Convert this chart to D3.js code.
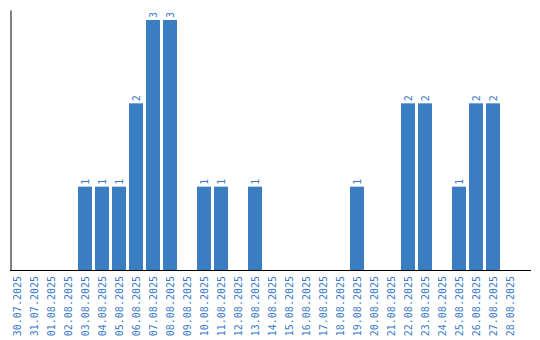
<!DOCTYPE html>
<html>
<head>
<meta charset="utf-8">
<script src="https://cdn.jsdelivr.net/npm/d3@7"></script>
<style>
    body { margin: 0; background: #fff; }
    text { font-family: "DejaVu Sans Mono", monospace; font-size: 10px; fill: #3a7bc8; }
</style>
</head>
<body>
<div class="container"></div>
<script>
var dates = [
    '30.07.2025', '31.07.2025', '01.08.2025', '02.08.2025', '03.08.2025', '04.08.2025',
    '05.08.2025', '06.08.2025', '07.08.2025', '08.08.2025', '09.08.2025', '10.08.2025',
    '11.08.2025', '12.08.2025', '13.08.2025', '14.08.2025', '15.08.2025', '16.08.2025',
    '17.08.2025', '18.08.2025', '19.08.2025', '20.08.2025', '21.08.2025', '22.08.2025',
    '23.08.2025', '24.08.2025', '25.08.2025', '26.08.2025', '27.08.2025', '28.08.2025'
];
var counts = [0, 0, 0, 0, 1, 1, 1, 2, 3, 3, 0, 1, 1, 0, 1, 0, 0, 0, 0, 0, 1, 0, 0, 2, 2, 0, 1, 2, 2, 0];

const WIDTH = 540;
const HEIGHT = 340;
const LEFT = 10;
const BASE = 270;
const TOP = 10;
const BAR_COLOR = '#3b7dc1';

var svg = d3.select('.container').append('svg')
    .attr('width', WIDTH)
    .attr('height', HEIGHT);

var xScale = d3.scaleBand()
    .domain(dates)
    .range([LEFT, LEFT + 17 * dates.length])
    .paddingInner(3 / 17)
    .paddingOuter(1.5 / 17)
    .align(0);

var yScale = d3.scaleLinear()
    .domain([0, 3.12])
    .range([BASE, TOP]);

var data = dates.map(function (d, i) {
    return {date: d, value: counts[i]};
});
var nonZero = data.filter(function (d) { return d.value > 0; });

svg.append('g')
    .selectAll('rect')
    .data(nonZero)
    .enter()
    .append('rect')
    .attr('x', function (d) { return xScale(d.date); })
    .attr('y', function (d) { return yScale(d.value); })
    .attr('width', xScale.bandwidth())
    .attr('height', function (d) { return BASE - yScale(d.value); })
    .attr('fill', BAR_COLOR);

// value labels, rotated like the date labels
svg.append('g')
    .selectAll('text')
    .data(nonZero)
    .enter()
    .append('text')
    .attr('transform', function (d) {
        var cx = xScale(d.date) + xScale.bandwidth() / 2;
        return 'translate(' + cx + ',' + (yScale(d.value) - 2) + ') rotate(-90)';
    })
    .attr('dy', '0.35em')
    .attr('text-anchor', 'start')
    .text(function (d) { return d.value; });

// axes
var xAxis = svg.append('g')
    .attr('transform', 'translate(0,' + BASE + ')')
    .call(d3.axisBottom(xScale).tickSize(0).tickSizeOuter(0));
xAxis.select('.domain').remove();
xAxis.selectAll('text')
    .attr('x', 0)
    .attr('y', 0)
    .attr('dy', '0.35em')
    .attr('transform', 'translate(0,6) rotate(-90)')
    .attr('text-anchor', 'end')
    .style('font-family', '"DejaVu Sans Mono", monospace')
    .style('font-size', '10px')
    .attr('fill', '#3a7bc8');

svg.append('line')
    .attr('x1', LEFT).attr('x2', 531)
    .attr('y1', BASE + 0.5).attr('y2', BASE + 0.5)
    .attr('stroke', '#000');

svg.append('g')
    .attr('transform', 'translate(' + (LEFT + 0.5) + ',0)')
    .call(d3.axisLeft(yScale).ticks(0).tickSizeOuter(0))
    .select('.domain')
    .attr('stroke', '#000');
</script>
</body>
</html>
